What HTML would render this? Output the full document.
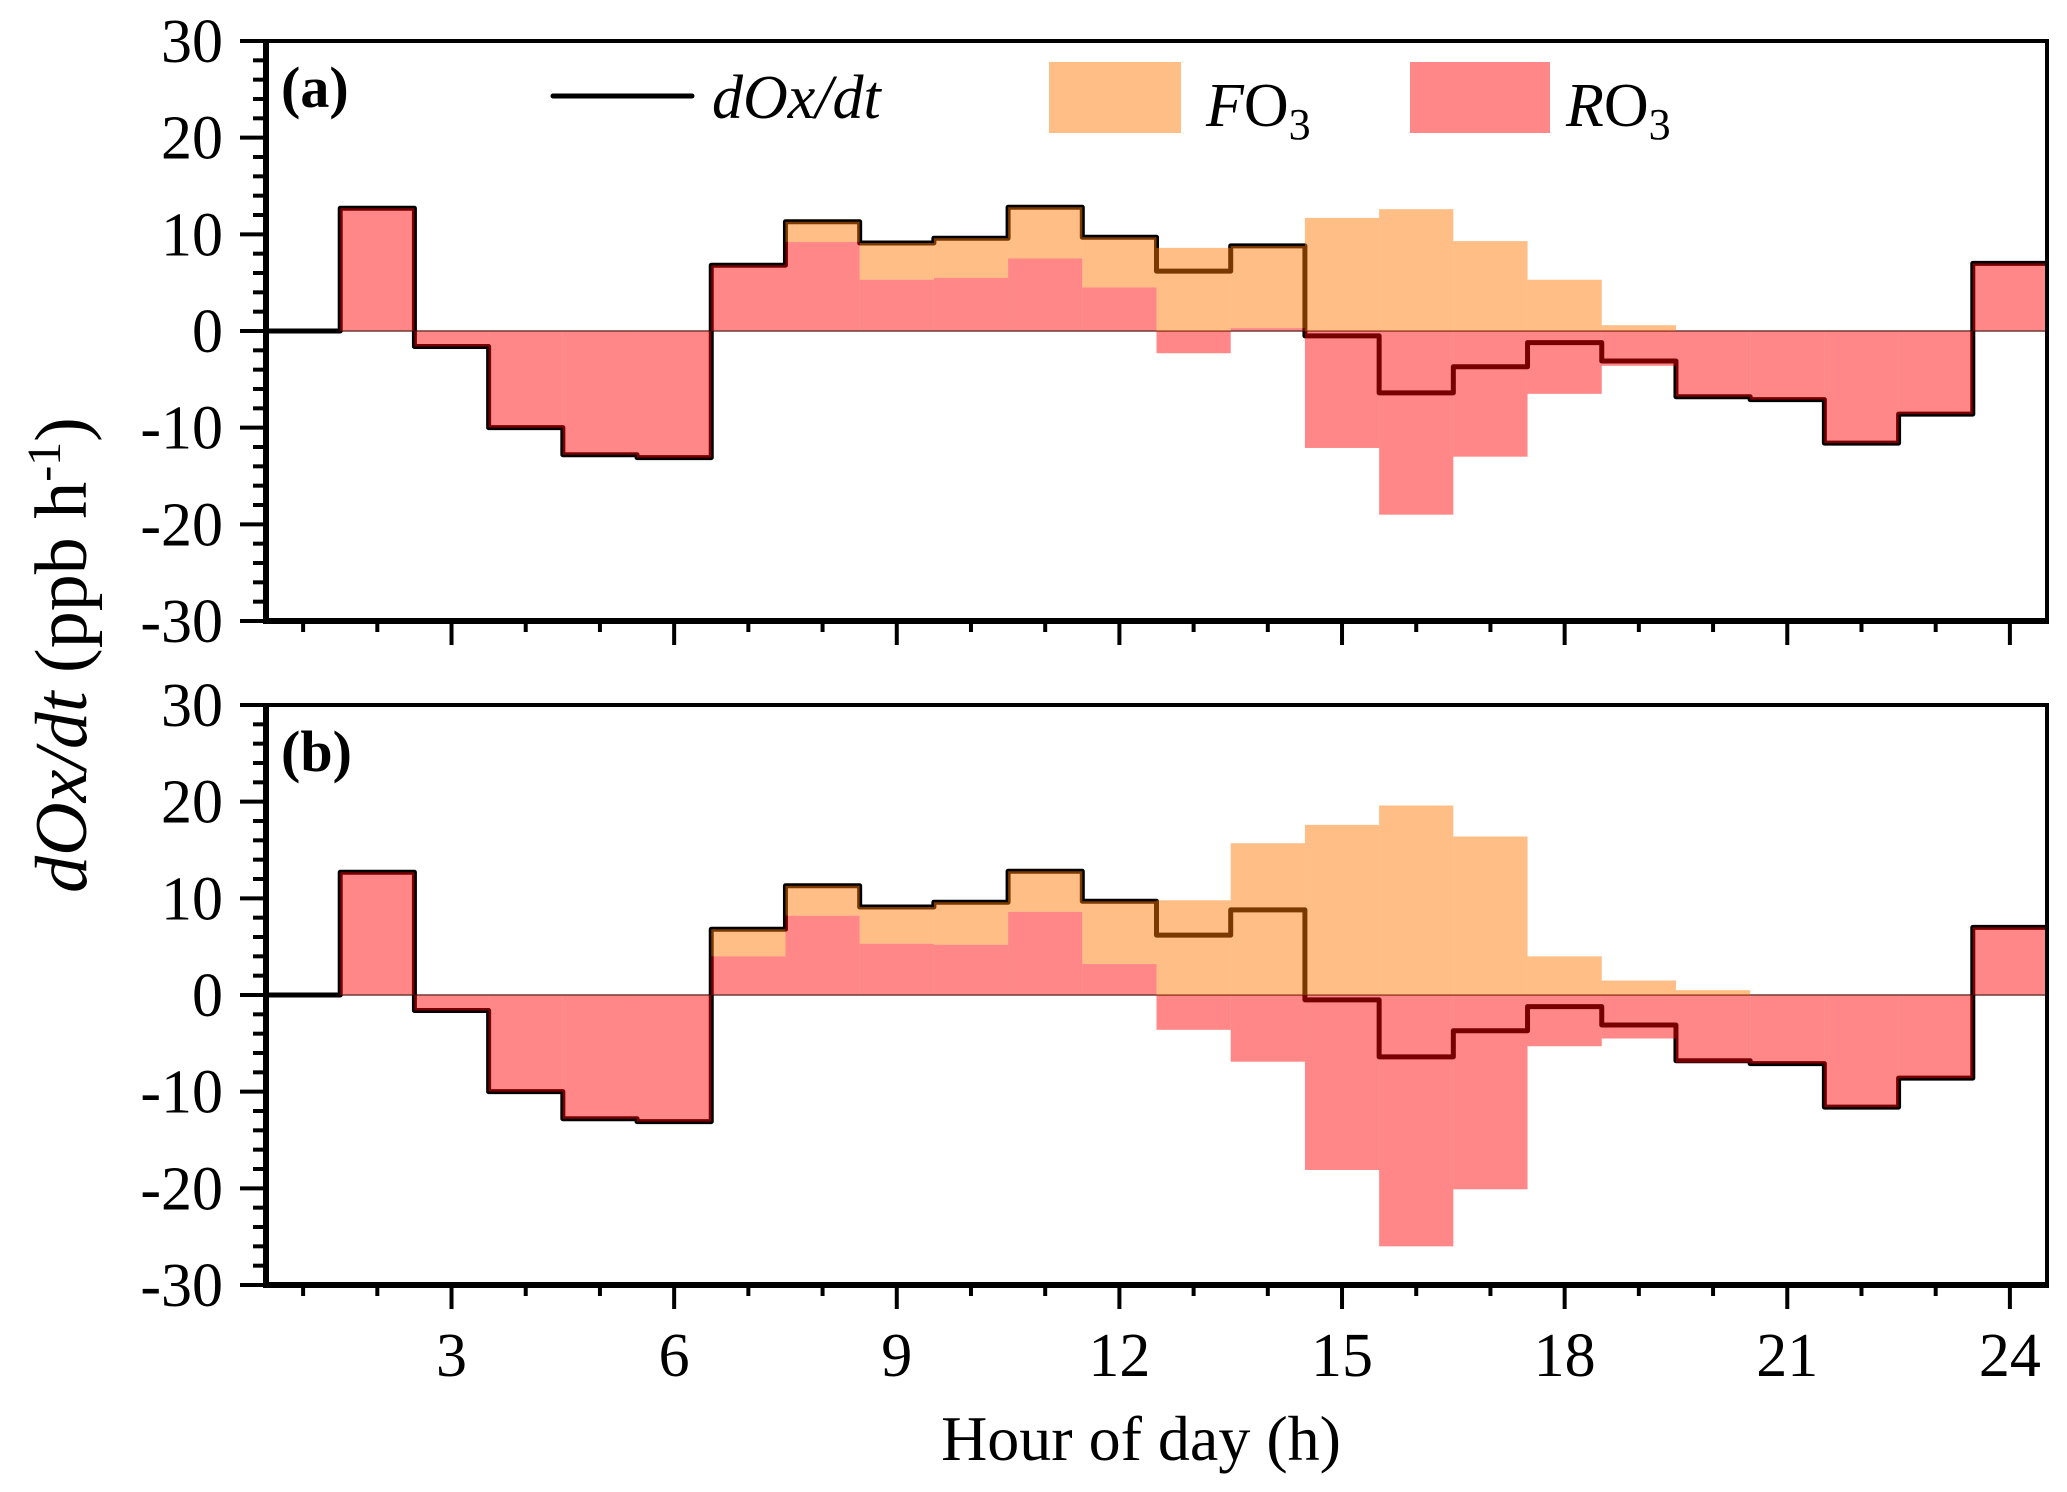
<!DOCTYPE html>
<html><head><meta charset="utf-8"><style>
html,body{margin:0;padding:0;background:#fff;}
svg{display:block;font-family:"Liberation Serif",serif;}
</style></head><body>
<svg id="chart" width="2067" height="1492" viewBox="0 0 2067 1492" xmlns="http://www.w3.org/2000/svg"></svg>
<script>
const hours = [1,2,3,4,5,6,7,8,9,10,11,12,13,14,15,16,17,18,19,20,21,22,23,24];
const dOx = [0,12.7,-1.6,-10,-12.8,-13.1,6.8,11.3,9.1,9.6,12.8,9.7,6.2,8.8,-0.5,-6.4,-3.7,-1.2,-3.1,-6.8,-7.1,-11.6,-8.6,7.0];
const fo3A = [0,0,0,0,0,0,6.8,11.3,9.1,9.6,12.8,9.7,8.6,8.8,11.7,12.6,9.3,5.3,0.6,0,0,0,0,0];
const ro3A = [0,12.7,-1.6,-10,-12.8,-13.1,6.8,9.2,5.3,5.5,7.5,4.5,-2.3,0.3,-12.1,-19,-13,-6.5,-3.6,-6.8,-7.1,-11.6,-8.6,7.0];
const fo3B = [0,0,0,0,0,0,6.8,11.3,9.1,9.6,12.8,9.7,9.8,15.7,17.6,19.6,16.4,4.0,1.5,0.5,0,0,0,0];
const ro3B = [0,12.7,-1.6,-10,-12.8,-13.1,4.0,8.2,5.3,5.2,8.6,3.2,-3.6,-6.9,-18.1,-26,-20.1,-5.3,-4.5,-7.0,-7.1,-11.6,-8.6,7.0];
const yTicks = [-30,-20,-10,0,10,20,30];
const xTicks = [3,6,9,12,15,18,21,24];

const NS = "http://www.w3.org/2000/svg";
const svg = document.getElementById('chart');
const L = 266, R = 2047;
function mk(tag, attrs, parent){const e=document.createElementNS(NS,tag);for(const k in attrs)e.setAttribute(k,attrs[k]);(parent||svg).appendChild(e);return e;}
const xs = h => L + (h-0.5)/24*(R-L);

function panel(top, bottom, fo3, ro3, label, name){
  const ys = v => top + (30-v)/60*(bottom-top);
  const g = mk('g',{});
  
  
  const z = mk('line',{x1:L,x2:R,y1:ys(0),y2:ys(0),stroke:'#777','stroke-width':2},g);
  
  
  let d = '';
  hours.forEach((h,i)=>{
    const x0=xs(h-0.5), x1=xs(h+0.5), y=ys(dOx[i]);
    d += (i===0?'M':'L')+x0+','+y+' L'+x1+','+y+' ';
  });
  const ln = mk('path',{d:d,fill:'none',stroke:'#000','stroke-width':5,'stroke-linejoin':'round'},g);
  
  
  hours.forEach((h,i)=>{
    const x0=xs(h-0.5), w=xs(h+0.5)-x0;
    const r = ro3[i], f = fo3[i];
    const base = (r>0)? r : 0;
    if (f>base){
      const o = mk('rect',{x:x0,y:ys(f),width:w,height:ys(base)-ys(f),fill:'rgb(255,120,0)','fill-opacity':0.48},g);
      
      
    }
    if (r!==0){
      const yt = ys(Math.max(r,0)), yb = ys(Math.min(r,0));
      const rr = mk('rect',{x:x0,y:yt,width:w,height:yb-yt,fill:'rgb(255,0,0)','fill-opacity':0.47},g);
      
      
    }
  });
  mk('rect',{x:L,y:top,width:R-L,height:bottom-top,fill:'none',stroke:'#000','stroke-width':4},g);
  mk('line',{x1:L,x2:L,y1:top-2,y2:bottom+3,stroke:'#000','stroke-width':6},g);
  mk('line',{x1:L-3,x2:R+2,y1:bottom,y2:bottom,stroke:'#000','stroke-width':6},g);
  for(let v=-30; v<=30; v+=2){
    const major = v%10===0;
    mk('line',{x1:L-(major?26:13),x2:L,y1:ys(v),y2:ys(v),stroke:'#000','stroke-width':4},g);
  }
  yTicks.forEach(v=>{
    const t = mk('text',{x:223,y:ys(v)+21,'text-anchor':'end','font-size':62},g);
    t.textContent = v;
    
    
  });
  for(let h=1; h<=24; h++){
    const major = h%3===0;
    mk('line',{x1:xs(h),x2:xs(h),y1:bottom,y2:bottom+(major?24:11),stroke:'#000','stroke-width':4},g);
  }
  const pl = mk('text',{x:281,y:top+66,'font-size':58,'font-weight':'bold'},g);
  pl.textContent = label;
  
  
  return ys;
}
panel(41,621,fo3A,ro3A,'(a)','panel-a');
panel(705,1285,fo3B,ro3B,'(b)','panel-b');

xTicks.forEach(h=>{
  const t = mk('text',{x:xs(h),y:1376,'text-anchor':'middle','font-size':62});
  t.textContent = h;
  
  
});
</script>
<svg style="position:absolute;left:0;top:0" width="2067" height="1492">
  <g font-family="Liberation Serif, serif" font-size="62">
    <line x1="553" x2="692" y1="96" y2="96" stroke="#000" stroke-width="5" stroke-linecap="round"/>
    <text x="712" y="118" font-style="italic">dOx/dt</text>
    <rect x="1049" y="62" width="132" height="71" fill="rgb(255,120,0)" fill-opacity="0.48"/>
    <text x="1206" y="126"><tspan font-style="italic">F</tspan>O<tspan font-size="44" dy="13">3</tspan></text>
    <rect x="1410" y="62" width="140" height="71" fill="rgb(255,0,0)" fill-opacity="0.47"/>
    <text x="1566" y="126"><tspan font-style="italic">R</tspan>O<tspan font-size="44" dy="13">3</tspan></text>
  </g>
  <text x="1141" y="1460" text-anchor="middle" font-family="Liberation Serif, serif" font-size="64">Hour of day (h)</text>
  <text transform="translate(86,655) rotate(-90)" text-anchor="middle" font-family="Liberation Serif, serif" font-size="74"><tspan font-style="italic">dOx/dt</tspan> (ppb h<tspan font-size="48" dy="-26">-1</tspan><tspan dy="26">)</tspan></text>
</svg>
</body></html>
